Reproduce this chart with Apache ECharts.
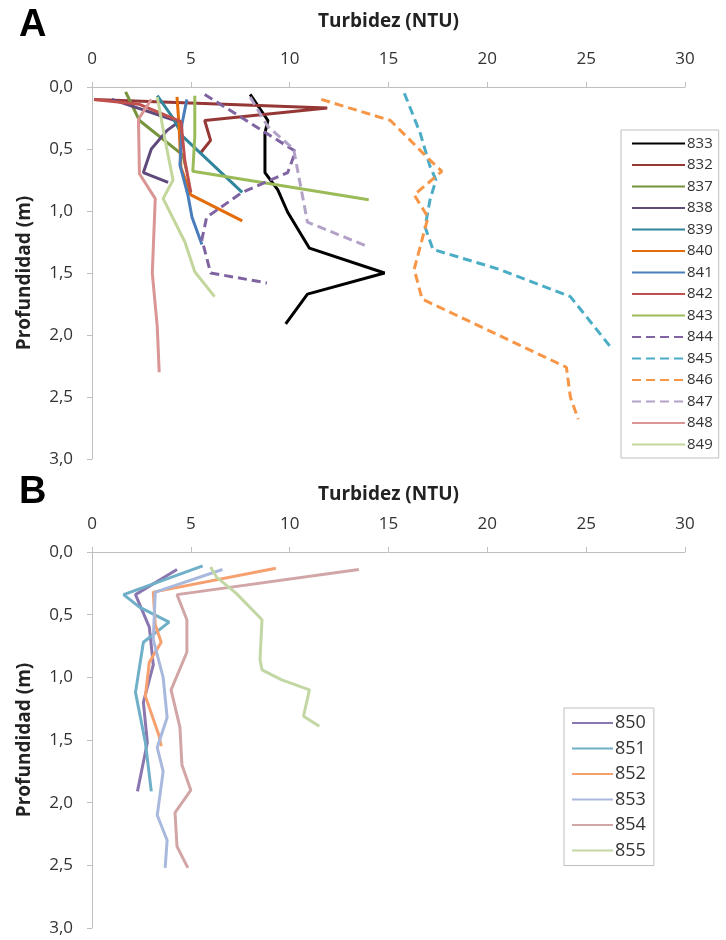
<!DOCTYPE html>
<html><head><meta charset="utf-8">
<script src="https://cdn.jsdelivr.net/npm/echarts@6/dist/echarts.min.js"></script>
<style>html,body{margin:0;padding:0;background:#fff}#c{width:726px;height:940px}</style>
</head><body><div id="c"></div>
<script>
// ---- tick labels ----
const ntuTicks = [0, 5, 10, 15, 20, 25, 30];
const depthTicks = [0, 0.5, 1, 1.5, 2, 2.5, 3];

// ---- Panel A stations ----
const namesA = ['833','832','837','838','839','840','841','842','843','844','845','846','847','848','849'];
const ntu833 = [8.0, 8.9, 8.75, 8.75, 9.4, 9.9, 11.0, 14.8, 10.9, 9.8];
const dep833 = [0.06, 0.27, 0.37, 0.69, 0.83, 1.01, 1.30, 1.50, 1.67, 1.91];
const ntu832 = [0.1, 11.9, 5.7, 6.0, 5.5];
const dep832 = [0.10, 0.17, 0.27, 0.43, 0.53];
const ntu837 = [1.7, 2.4, 4.6, 4.8];
const dep837 = [0.04, 0.27, 0.55, 0.68];
const ntu838 = [1.0, 4.4, 3.8, 3.0, 2.6, 3.85];
const dep838 = [0.10, 0.28, 0.35, 0.50, 0.69, 0.77];
const ntu839 = [3.3, 4.1, 4.6, 7.6];
const dep839 = [0.07, 0.25, 0.40, 0.85];
const ntu840 = [4.3, 4.4, 4.5, 5.0, 7.6];
const dep840 = [0.08, 0.30, 0.65, 0.87, 1.08];
const ntu841 = [4.8, 4.55, 4.45, 4.85, 5.06, 5.56];
const dep841 = [0.10, 0.30, 0.63, 0.87, 1.05, 1.27];
const ntu842 = [0.1, 2.4, 4.5, 4.7, 5.0];
const dep842 = [0.10, 0.14, 0.28, 0.60, 0.85];
const ntu843 = [5.2, 5.2, 5.1, 14.0];
const dep843 = [0.07, 0.40, 0.68, 0.91];
const ntu844 = [5.7, 10.0, 10.3, 9.9, 7.6, 5.8, 5.56, 6.0, 8.85];
const dep844 = [0.06, 0.49, 0.52, 0.69, 0.85, 1.05, 1.23, 1.50, 1.58];
const ntu845 = [15.8, 16.6, 17.1, 17.4, 17.1, 16.85, 17.25, 20.6, 24.2, 26.2];
const dep845 = [0.05, 0.37, 0.64, 0.75, 0.91, 1.13, 1.31, 1.47, 1.69, 2.09];
const ntu846 = [11.6, 15.1, 17.1, 17.7, 16.3, 17.0, 16.3, 16.7, 24.0, 24.2, 24.6];
const dep846 = [0.10, 0.27, 0.59, 0.68, 0.87, 1.05, 1.47, 1.71, 2.26, 2.50, 2.68];
const ntu847 = [8.0, 8.9, 10.2, 10.4, 10.9, 14.0];
const dep847 = [0.08, 0.32, 0.50, 0.67, 1.09, 1.29];
const ntu848 = [3.0, 2.35, 2.4, 3.2, 3.05, 3.3, 3.4];
const dep848 = [0.10, 0.26, 0.70, 0.90, 1.50, 1.93, 2.30];
const ntu849 = [3.3, 3.7, 4.1, 3.6, 4.7, 5.2, 6.2];
const dep849 = [0.08, 0.43, 0.75, 0.90, 1.25, 1.49, 1.69];

// ---- Panel B stations ----
const namesB = ['850','851','852','853','854','855'];
const ntu850 = [4.3, 2.2, 2.9, 3.1, 2.6, 2.8, 2.3];
const dep850 = [0.14, 0.34, 0.60, 0.90, 1.20, 1.52, 1.91];
const ntu851 = [5.6, 1.6, 2.4, 3.9, 2.6, 2.2, 2.7, 3.0];
const dep851 = [0.11, 0.34, 0.44, 0.56, 0.72, 1.12, 1.52, 1.91];
const ntu852 = [9.3, 3.1, 3.2, 3.5, 2.9, 2.7, 3.4, 3.5];
const dep852 = [0.13, 0.32, 0.58, 0.72, 0.88, 1.15, 1.47, 1.55];
const ntu853 = [6.6, 3.2, 3.1, 3.6, 3.8, 3.3, 3.6, 3.3, 3.8, 3.7];
const dep853 = [0.14, 0.32, 0.70, 1.00, 1.32, 1.56, 1.75, 2.10, 2.30, 2.52];
const ntu854 = [13.5, 4.3, 4.8, 4.8, 4.0, 4.45, 4.55, 5.0, 4.2, 4.3, 4.85];
const dep854 = [0.14, 0.34, 0.54, 0.80, 1.10, 1.40, 1.70, 1.90, 2.08, 2.35, 2.52];
const ntu855 = [6.0, 6.3, 7.3, 8.6, 8.5, 8.6, 9.6, 11.0, 10.7, 11.5];
const dep855 = [0.12, 0.20, 0.33, 0.54, 0.86, 0.94, 1.02, 1.10, 1.31, 1.39];

const dataA = {
  '833':[ntu833,dep833],'832':[ntu832,dep832],'837':[ntu837,dep837],'838':[ntu838,dep838],
  '839':[ntu839,dep839],'840':[ntu840,dep840],'841':[ntu841,dep841],'842':[ntu842,dep842],
  '843':[ntu843,dep843],'844':[ntu844,dep844],'845':[ntu845,dep845],'846':[ntu846,dep846],
  '847':[ntu847,dep847],'848':[ntu848,dep848],'849':[ntu849,dep849]
};
const dataB = {
  '850':[ntu850,dep850],'851':[ntu851,dep851],'852':[ntu852,dep852],
  '853':[ntu853,dep853],'854':[ntu854,dep854],'855':[ntu855,dep855]
};

// ---- styles ----
const colors = {
  '833':'#000000','832':'#953735','837':'#77933C','838':'#604A7B','839':'#31859C',
  '840':'#E46C0A','841':'#4A7EBB','842':'#C0504D','843':'#9BBB59','844':'#8064A2',
  '845':'#4BACC6','846':'#F79646','847':'#B3A2C7','848':'#D99694','849':'#C3D69B',
  '850':'#8B77B0','851':'#6FB0C8','852':'#F6A070','853':'#A9B9DE','854':'#D2A6A6','855':'#C2D7A4'
};
const dashed = {'844':1,'845':1,'846':1,'847':1};

const FONT = 'Open Sans';
const axisGray = '#BFBFBF';
const fmtDepth = v => v.toFixed(1).replace('.', ',');

function xAxisCfg(gi, gap) {
  return {
    gridIndex: gi, type: 'value', position: 'top', min: 0, max: 30, interval: 5,
    name: 'Turbidez (NTU)', nameLocation: 'middle', nameGap: gap,
    nameTextStyle: {fontFamily: FONT, fontWeight: 'bold', fontSize: 19, color: '#222'},
    axisLine: {show: true, lineStyle: {color: axisGray, width: 1}},
    axisTick: {show: true, length: 5, lineStyle: {color: axisGray}},
    axisLabel: {fontFamily: FONT, fontSize: 17, color: '#333', margin: 19},
    splitLine: {show: false}
  };
}
function yAxisCfg(gi) {
  return {
    gridIndex: gi, type: 'value', inverse: true, min: 0, max: 3, interval: 0.5,
    name: 'Profundidad (m)', nameLocation: 'middle', nameGap: 58,
    nameTextStyle: {fontFamily: FONT, fontWeight: 'bold', fontSize: 19, color: '#222'},
    axisLine: {show: true, lineStyle: {color: axisGray, width: 1}},
    axisTick: {show: true, length: 5, lineStyle: {color: axisGray}},
    axisLabel: {fontFamily: FONT, fontSize: 17, color: '#333', margin: 19, formatter: fmtDepth},
    splitLine: {show: false}
  };
}
function mkSeries(name, pair, gi) {
  const pts = pair[0].map((v, i) => [v, pair[1][i]]);
  return {
    name, type: 'line', xAxisIndex: gi, yAxisIndex: gi, data: pts,
    symbol: 'none', smooth: false, animation: false,
    lineStyle: {color: colors[name], width: 3, type: dashed[name] ? [9, 5] : 'solid'},
    itemStyle: {color: colors[name]}
  };
}

const series = [];
namesA.forEach(n => series.push(mkSeries(n, dataA[n], 0)));
namesB.forEach(n => series.push(mkSeries(n, dataB[n], 1)));

const chart = echarts.init(document.getElementById('c'), null, {renderer: 'canvas'});
chart.setOption({
  animation: false,
  backgroundColor: '#fff',
  grid: [
    {left: 92, top: 87, width: 593, height: 372},
    {left: 92, top: 552, width: 593, height: 376}
  ],
  xAxis: [xAxisCfg(0, 56), xAxisCfg(1, 48)],
  yAxis: [yAxisCfg(0), yAxisCfg(1)],
  legend: [
    {
      data: namesA, orient: 'vertical', left: 621, top: 130,
      padding: [6, 6, 6, 10], borderColor: '#BFBFBF', borderWidth: 1,
      itemWidth: 53, itemHeight: 12, itemGap: 6.5,
      itemStyle: {opacity: 0},
      textStyle: {fontFamily: FONT, fontSize: 15, color: '#333', lineHeight: 15, padding: [0, 0, 0, -3]}
    },
    {
      data: namesB, orient: 'vertical', left: 564, top: 708,
      padding: [6, 8, 6, 7], borderColor: '#BFBFBF', borderWidth: 1,
      itemWidth: 41, itemHeight: 14, itemGap: 7.5,
      itemStyle: {opacity: 0},
      textStyle: {fontFamily: FONT, fontSize: 18, color: '#333', lineHeight: 18, padding: [0, 0, 0, -3]}
    }
  ],
  graphic: [
    {type: 'text', left: 19, top: 7, style: {text: 'A', fontFamily: 'Liberation Sans', fontWeight: 'bold', fontSize: 38, fill: '#000'}},
    {type: 'text', left: 19, top: 474, style: {text: 'B', fontFamily: 'Liberation Sans', fontWeight: 'bold', fontSize: 38, fill: '#000'}}
  ],
  series
});
</script>
</body></html>
